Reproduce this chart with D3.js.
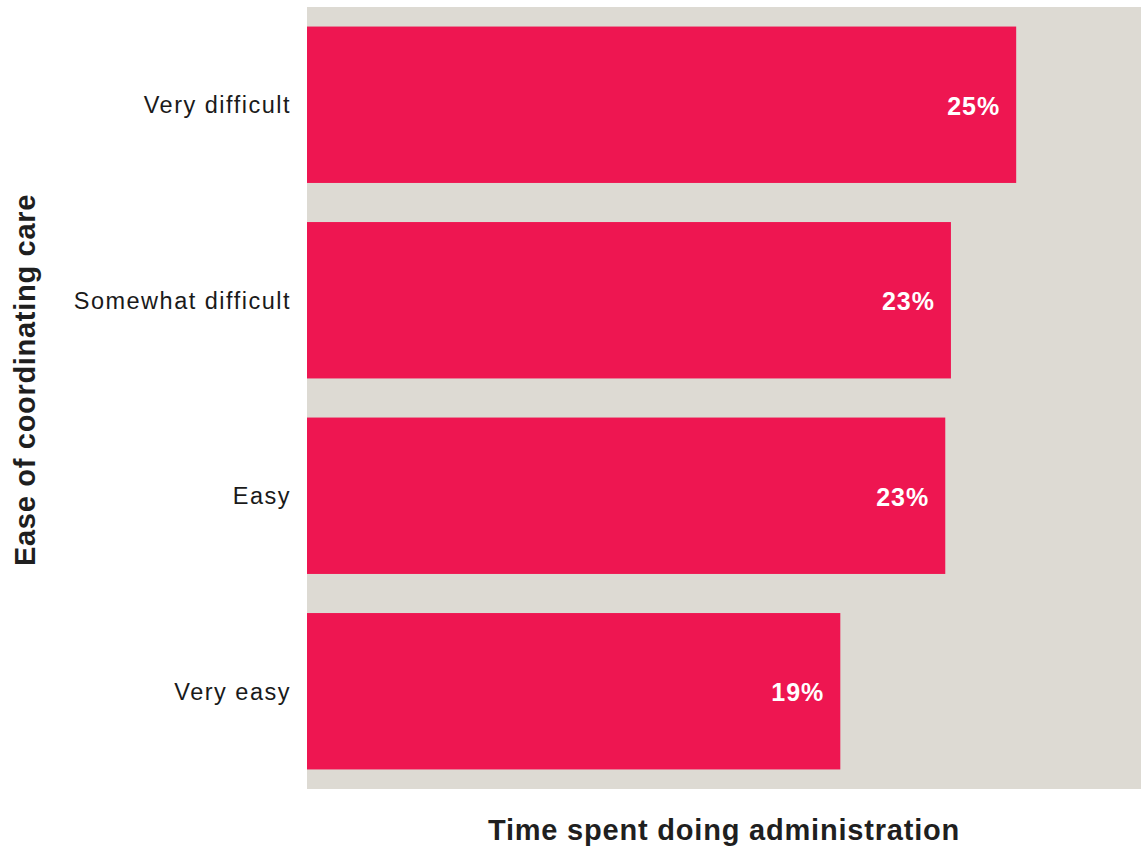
<!DOCTYPE html>
<html>
<head>
<meta charset="utf-8">
<script src="https://cdn.jsdelivr.net/npm/d3@7"></script>
<style>
  html, body { margin: 0; padding: 0; background: #ffffff; }
  svg { display: block; }
</style>
</head>
<body>
<svg id="chart" width="1141" height="848"></svg>
<script>
// Share of time spent on administration, by ease of coordinating care
const categories = ["Very difficult", "Somewhat difficult", "Easy", "Very easy"];
const values = [0.250, 0.227, 0.225, 0.188];
const xTitle = "Time spent doing administration";
const yTitle = "Ease of coordinating care";
const xMax = 0.294;

const width = 1141, height = 848;
const margin = { top: 7, right: 0, bottom: 59, left: 307 };
const font = "'Liberation Sans', Arial, sans-serif";
const svg = d3.select("#chart");

const x = d3.scaleLinear()
  .domain([0, xMax])
  .range([margin.left, width - margin.right]);

const y = d3.scaleBand()
  .domain(categories)
  .range([margin.top, height - margin.bottom])
  .paddingInner(0.2)
  .paddingOuter(0.1);

// panel background
svg.append("rect")
  .attr("x", margin.left)
  .attr("y", margin.top)
  .attr("width", width - margin.left - margin.right)
  .attr("height", height - margin.top - margin.bottom)
  .attr("fill", "#dddad3");

// bars
svg.append("g").selectAll("rect")
  .data(categories)
  .join("rect")
  .attr("x", x(0))
  .attr("y", d => y(d))
  .attr("width", (d, i) => x(values[i]) - x(0))
  .attr("height", y.bandwidth())
  .attr("fill", "#ee1651");

// value labels inside bar ends
const fmt = d3.format(".0%");
svg.append("g").selectAll("text")
  .data(categories)
  .join("text")
  .attr("x", (d, i) => x(values[i]) - 16)
  .attr("y", d => y(d) + y.bandwidth() / 2 + 1)
  .attr("dy", "0.35em")
  .attr("text-anchor", "end")
  .attr("font-family", font)
  .attr("font-weight", 700)
  .attr("font-size", 25)
  .attr("letter-spacing", 1)
  .attr("fill", "#ffffff")
  .text((d, i) => fmt(values[i]));

// category axis
const yAxis = svg.append("g")
  .attr("transform", `translate(${margin.left},1)`)
  .call(d3.axisLeft(y).tickSize(0).tickPadding(16));
yAxis.select(".domain").remove();
yAxis.selectAll("text")
  .attr("font-family", font)
  .attr("font-size", 23.5)
  .attr("letter-spacing", 1.5)
  .attr("fill", "#1a1a1a");

// axis titles
svg.append("text")
  .attr("x", (margin.left + width - margin.right) / 2)
  .attr("y", 840)
  .attr("text-anchor", "middle")
  .attr("font-family", font)
  .attr("font-weight", 700)
  .attr("font-size", 29)
  .attr("letter-spacing", 0.8)
  .attr("fill", "#1f1f1f")
  .text(xTitle);

svg.append("text")
  .attr("transform", `translate(35,380) rotate(-90)`)
  .attr("text-anchor", "middle")
  .attr("font-family", font)
  .attr("font-weight", 700)
  .attr("font-size", 29)
  .attr("letter-spacing", 0.7)
  .attr("fill", "#1f1f1f")
  .text(yTitle);
</script>
</body>
</html>
